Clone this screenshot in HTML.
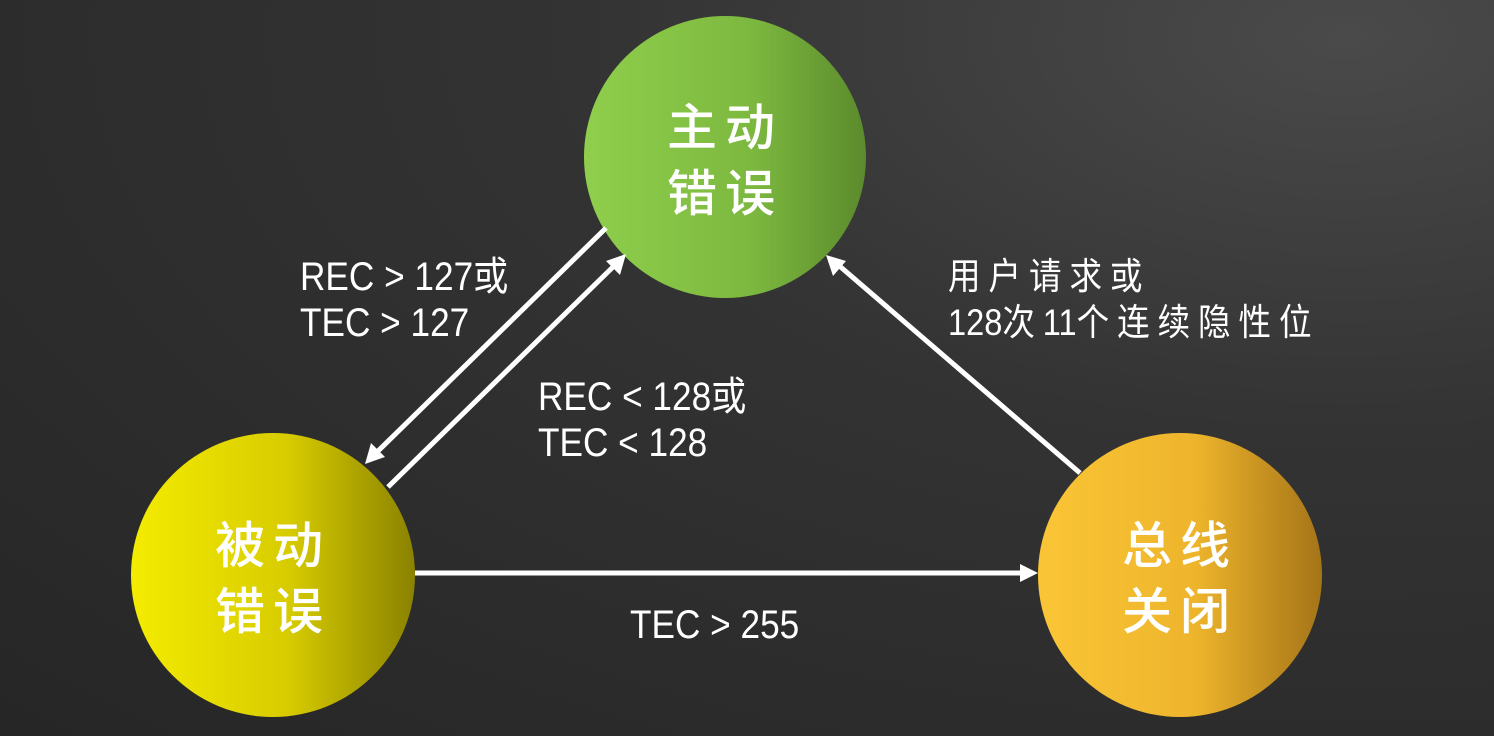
<!DOCTYPE html>
<html><head><meta charset="utf-8"><style>
html,body{margin:0;padding:0}
body{width:1494px;height:736px;overflow:hidden;background:radial-gradient(ellipse at 90% 5%,#4a4a4a 0%,#333 40%,#262626 100%);position:relative;font-family:"Liberation Sans","Noto Sans CJK SC",sans-serif;color:#fff}
.c{position:absolute;border-radius:50%;display:flex;align-items:center;justify-content:center;text-align:center;font-size:50px;line-height:66px;letter-spacing:8px;font-weight:500;font-family:"Noto Sans CJK SC",sans-serif}
.t{position:absolute;font-size:40px;line-height:46px;white-space:nowrap;transform:scaleX(0.88);transform-origin:left top}
.n{letter-spacing:0}
</style></head><body>
<div class="c" style="left:584px;top:16px;width:282px;height:282px;background:linear-gradient(90deg,#8fcf4c,#7cb83f 60%,#5b8a2c)">主动<br>错误</div>
<div class="c" style="left:131px;top:433px;width:284px;height:284px;background:linear-gradient(90deg,#f4ec00,#d8cc00 55%,#8a8200)">被动<br>错误</div>
<div class="c" style="left:1038px;top:433px;width:284px;height:284px;background:linear-gradient(90deg,#fac536,#eeb52c 55%,#a57418)">总线<br>关闭</div>
<svg width="1494" height="736" style="position:absolute;left:0;top:0">
<g stroke="#fff" stroke-width="5" fill="none">
<line x1="606" y1="228" x2="375" y2="454"/>
<line x1="388" y1="487" x2="616" y2="264"/>
<line x1="1080" y1="473" x2="836" y2="263"/>
<line x1="415" y1="573" x2="1024" y2="573"/>
</g>
<g fill="#fff">
<polygon points="365,464 371,443 385,457"/>
<polygon points="626,254 620,275 606,261"/>
<polygon points="826,255 846,261 833,276"/>
<polygon points="1038,573 1020,564 1020,582"/>
</g>
</svg>
<div class="t" style="left:300px;top:254px">REC &gt; 127或<br>TEC &gt; 127</div>
<div class="t" style="left:538px;top:374px">REC &lt; 128或<br>TEC &lt; 128</div>
<div class="t" style="left:948px;top:254px;font-size:37px;letter-spacing:9px">用户请求或<br><span class="n">128</span>次<span class="n">11</span>个连续隐性位</div>
<div class="t" style="left:630px;top:602px">TEC &gt; 255</div>
</body></html>
